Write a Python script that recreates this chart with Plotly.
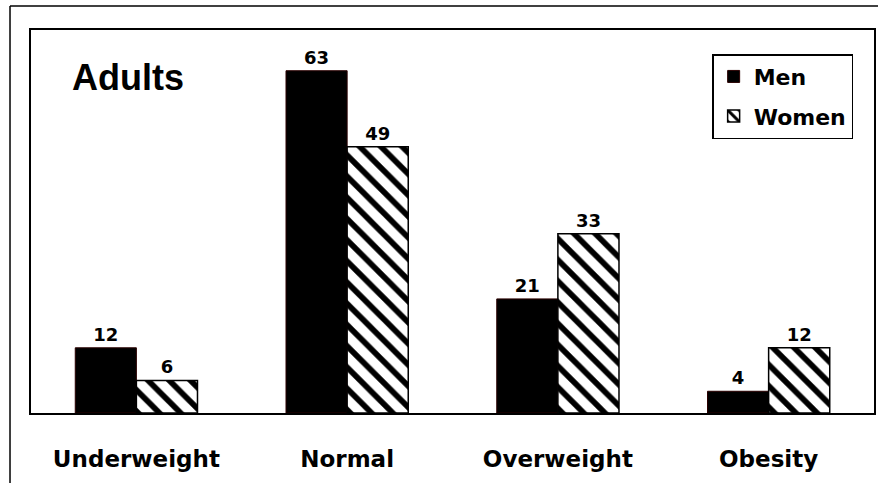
import plotly.graph_objects as go

categories = ["Underweight", "Normal", "Overweight", "Obesity"]
men = [12, 63, 21, 4]
women = [6, 49, 33, 12]

BOLD_FONT = "DejaVu Sans"

fig = go.Figure()

fig.add_trace(go.Bar(
    x=categories, y=men, name="Men", legendgroup="men",
    marker=dict(color="black", line=dict(color="#2a0000", width=1)),
    text=[str(v) for v in men], textposition="outside",
    textfont=dict(family=BOLD_FONT, size=18, color="black", weight="bold"),
    cliponaxis=False,
))
fig.add_trace(go.Bar(
    x=categories, y=women, name="Women", legendgroup="women",
    marker=dict(color="white", line=dict(color="black", width=1.5),
                pattern=dict(shape="\\", fgcolor="black", bgcolor="white",
                             fgopacity=1, size=15, solidity=0.38)),
    text=[str(v) for v in women], textposition="outside",
    textfont=dict(family=BOLD_FONT, size=18, color="black", weight="bold"),
    cliponaxis=False,
))

# outer frame: left and top edges of the surrounding box
fig.add_shape(type="line", xref="paper", yref="paper",
              x0=-0.0249, x1=-0.0249, y0=-0.2, y1=1.0627,
              line=dict(color="black", width=1.5))
fig.add_shape(type="line", xref="paper", yref="paper",
              x0=-0.0249, x1=1.01, y0=1.0627, y1=1.0627,
              line=dict(color="black", width=1.5))

fig.add_annotation(text="Adults", xref="paper", yref="paper",
                   x=0.046, y=0.875, xanchor="left", yanchor="middle",
                   showarrow=False,
                   font=dict(family="Liberation Sans", size=36, color="black",
                             weight="bold"))

fig.update_layout(
    width=878, height=483,
    margin=dict(l=31, r=2, t=30, b=70),
    paper_bgcolor="white", plot_bgcolor="white",
    barmode="group", bargap=0.42, bargroupgap=0,
    showlegend=True,
    legend=dict(x=0.808, y=0.937, xanchor="left", yanchor="top",
                bordercolor="black", borderwidth=1.5, bgcolor="white",
                font=dict(family=BOLD_FONT, size=22, color="black", weight="bold"),
                tracegroupgap=8, itemwidth=30),
    xaxis=dict(showline=True, linecolor="black", linewidth=1.5, mirror=True,
               ticks="", ticklabelstandoff=25,
               tickfont=dict(family=BOLD_FONT, size=23, color="black", weight="bold")),
    yaxis=dict(range=[0, 70.5], showline=True, linecolor="black", linewidth=1.5,
               mirror=True, showgrid=False, zeroline=False, showticklabels=False,
               ticks=""),
)

fig.write_html("out.html")
